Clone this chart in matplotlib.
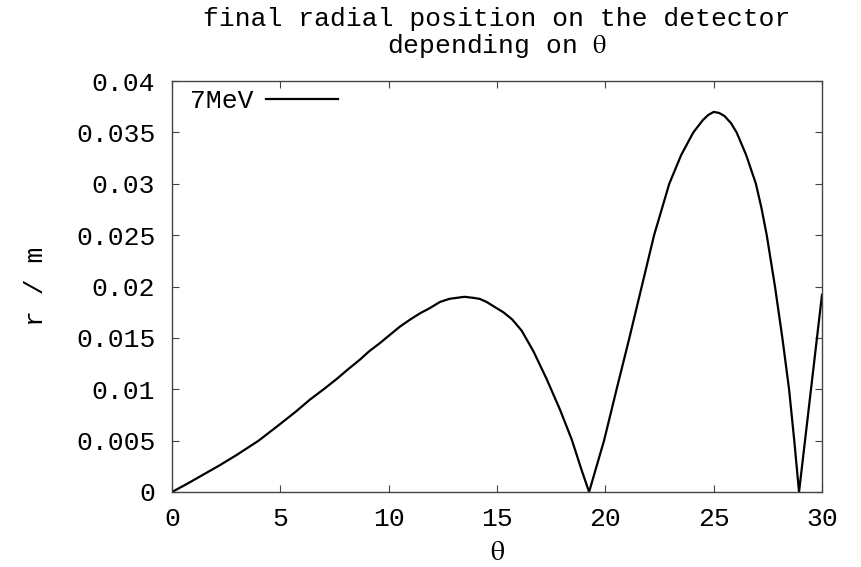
import matplotlib
matplotlib.use("Agg")
import matplotlib.pyplot as plt
from matplotlib.ticker import FuncFormatter

# theta (deg) and final radial position r (m)
theta = [0.0, 0.7, 1.45, 2.2, 2.98, 4.0, 4.98, 5.7, 6.37, 7.0, 7.6, 8.1,
         8.68, 9.1, 9.6, 10.0, 10.52, 11.0, 11.45, 11.9, 12.37, 12.8,
         13.14, 13.5, 13.9, 14.2, 14.52, 14.9, 15.29, 15.7, 16.14, 16.68,
         17.29, 17.91, 18.45, 18.91, 19.25,
         19.94, 20.52, 21.11, 21.68, 22.25, 22.95, 23.5, 24.06, 24.5,
         24.75, 25.0, 25.25, 25.5, 25.8, 26.06, 26.5, 26.95, 27.2, 27.45,
         27.83, 28.17, 28.48, 28.72, 28.94, 30.0]
r = [0.0, 0.0008, 0.0017, 0.0026, 0.0036, 0.0050, 0.0066, 0.0078, 0.0090,
     0.0100, 0.0110, 0.0119, 0.0129, 0.0137, 0.0145, 0.0152, 0.0161,
     0.0168, 0.0174, 0.0179, 0.0185, 0.0188, 0.0189, 0.0190, 0.0189,
     0.0188, 0.0185, 0.0180, 0.0175, 0.0168, 0.0157, 0.0137, 0.0110,
     0.0080, 0.0051, 0.0021, 0.0,
     0.005, 0.010, 0.015, 0.020, 0.025, 0.030, 0.0328, 0.0350, 0.0362,
     0.0367, 0.0370, 0.0369, 0.0366, 0.0359, 0.0350, 0.0328, 0.0300,
     0.0277, 0.025, 0.020, 0.015, 0.010, 0.005, 0.0, 0.0192]

xticks = [0, 5, 10, 15, 20, 25, 30]
yticks = [0, 0.005, 0.01, 0.015, 0.02, 0.025, 0.03, 0.035, 0.04]

plt.rcParams['font.family'] = ['Liberation Mono', 'DejaVu Sans Mono']
plt.rcParams['mathtext.fontset'] = 'stix'
fs = 19

fig = plt.figure(figsize=(8.61, 5.67), dpi=100)
ax = fig.add_axes([0.1998, 0.1323, 0.7549, 0.7247])

ax.plot(theta, r, color='black', linewidth=1.6, label='7MeV')

ax.set_xlim(0, 30)
ax.set_ylim(0, 0.04)
ax.set_xticks(xticks)
ax.set_yticks(yticks)
ax.yaxis.set_major_formatter(FuncFormatter(lambda v, p: '0' if v == 0 else f'{v:g}'))

ax.tick_params(direction='in', length=5, width=0.8, top=True, right=True,
               labelsize=fs, color='#444444')
ax.tick_params(axis='y', pad=12)
ax.tick_params(axis='x', pad=11)
for s in ax.spines.values():
    s.set_linewidth(1.0)
    s.set_color('#444444')

ax.set_title('final radial position on the detector\ndepending on $\\mathrm{\\theta}$',
             fontsize=fs, pad=20, linespacing=1.05)
ax.set_xlabel('$\\mathrm{\\theta}$', fontsize=20, labelpad=6)
ax.set_ylabel('r / m', fontsize=fs, labelpad=20)

ax.legend(loc='upper left', bbox_to_anchor=(0.015, 1.0), frameon=False,
          markerfirst=False, fontsize=fs, handlelength=2.7,
          handletextpad=0.5, borderaxespad=0.0, borderpad=0.3)

fig.savefig('out.png', dpi=100)
